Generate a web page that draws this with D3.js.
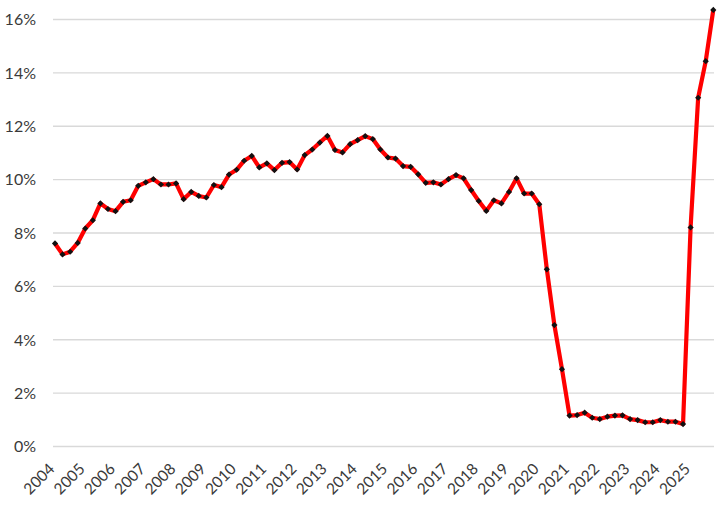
<!DOCTYPE html>
<html>
<head>
<meta charset="utf-8">
<script src="https://cdn.jsdelivr.net/npm/d3@7"></script>
<style>
    html, body { margin: 0; padding: 0; background: #fff; }
    #chart text { font-family: Lato, "Open Sans", sans-serif; fill: #3a3a3a; }
</style>
</head>
<body>
<div id="chart"></div>
<script>
// years shown on the axis (first quarter of each year)
const years = ['2004', '2005', '2006', '2007', '2008', '2009', '2010', '2011', '2012', '2013', '2014',
    '2015', '2016', '2017', '2018', '2019', '2020', '2021', '2022', '2023', '2024', '2025'];

const quarterNames = ['Q1', 'Q2', 'Q3', 'Q4'];

// quarterly rate, %
const rates = [
    7.59, 7.18, 7.28, 7.61,      // 2004
    8.15, 8.46, 9.09, 8.88,      // 2005
    8.80, 9.15, 9.21, 9.75,      // 2006
    9.88, 10.00, 9.80, 9.80,     // 2007
    9.84, 9.25, 9.52, 9.37,      // 2008
    9.31, 9.78, 9.70, 10.17,     // 2009
    10.35, 10.69, 10.87, 10.44,  // 2010
    10.59, 10.34, 10.61, 10.64,  // 2011
    10.36, 10.90, 11.11, 11.37,  // 2012
    11.62, 11.09, 11.00, 11.31,  // 2013
    11.46, 11.61, 11.50, 11.11,  // 2014
    10.81, 10.77, 10.49, 10.46,  // 2015
    10.18, 9.86, 9.88, 9.80,     // 2016
    10.00, 10.15, 10.03, 9.59,   // 2017
    9.18, 8.81, 9.21, 9.09,      // 2018
    9.52, 10.03, 9.46, 9.46,     // 2019
    9.06, 6.62, 4.53, 2.88,      // 2020
    1.14, 1.16, 1.25, 1.06,      // 2021
    1.01, 1.10, 1.14, 1.15,      // 2022
    1.01, 0.97, 0.89, 0.89,      // 2023
    0.97, 0.91, 0.91, 0.82,      // 2024
    8.19, 13.05, 14.42, 16.34    // 2025
];

const yTicks = [0, 2, 4, 6, 8, 10, 12, 14, 16];

const quarters = [];
years.forEach(y => quarterNames.forEach(q => quarters.push(`${y} ${q}`)));
const data = rates.map((v, i) => ({ key: quarters[i], value: v }));

const chartWidth = 724;
const chartHeight = 505;

const svg = d3.select('#chart')
    .append('svg')
    .attr('width', chartWidth)
    .attr('height', chartHeight);

const x = d3.scalePoint()
    .domain(quarters)
    .range([55, 713.3]);

const y = d3.scaleLinear()
    .domain([0, 16])
    .range([446, 19]);

// gridlines + y labels
const yAxis = svg.append('g')
    .attr('class', 'y-axis')
    .attr('transform', 'translate(53,0)')
    .call(d3.axisLeft(y)
        .tickValues(yTicks)
        .tickSize(-661)
        .tickPadding(17)
        .tickFormat(d => d + '%'));

yAxis.select('.domain').remove();
yAxis.selectAll('line')
    .attr('stroke', '#d9d9d9')
    .attr('stroke-width', 1.3);
yAxis.selectAll('text')
    .style('font-size', '16px')
    .attr('dy', '0.36em');

// year labels, rotated
const xAxis = svg.append('g')
    .attr('class', 'x-axis')
    .attr('transform', 'translate(0,446)')
    .call(d3.axisBottom(x)
        .tickValues(years.map(yr => `${yr} Q1`))
        .tickSize(0)
        .tickFormat(d => d.slice(0, 4)));

xAxis.select('.domain').remove();
xAxis.selectAll('text')
    .style('font-size', '15.5px')
    .attr('x', 0)
    .attr('y', 0)
    .attr('dy', 0)
    .attr('text-anchor', 'end')
    .attr('transform', 'translate(0,24) rotate(-45)');

const line = d3.line()
    .x(d => x(d.key))
    .y(d => y(d.value));

svg.append('path')
    .datum(data)
    .attr('fill', 'none')
    .attr('stroke', '#ff0000')
    .attr('stroke-width', 4.2)
    .attr('stroke-linejoin', 'round')
    .attr('d', line);

const marker = d3.symbol().type(d3.symbolSquare).size(19);

svg.selectAll('.dot')
    .data(data)
    .enter().append('path')
    .attr('class', 'dot')
    .attr('d', marker)
    .attr('fill', '#111')
    .attr('transform', d => `translate(${x(d.key)},${y(d.value)}) rotate(45)`);
</script>
</body>
</html>
